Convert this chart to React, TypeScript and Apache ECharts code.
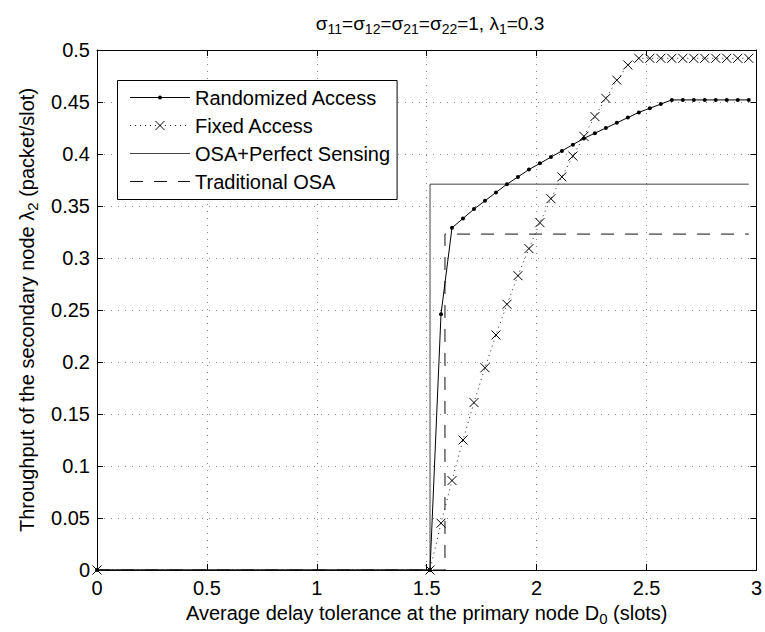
import React, { useEffect, useRef } from "react";
import * as echarts from "echarts";

const FONT = "'Liberation Sans', Arial, Helvetica, sans-serif";

// x positions of the sampled delay tolerances D0 (slots)
const dX = [
  0, 1.515, 1.565, 1.615, 1.665, 1.715, 1.765, 1.815, 1.865, 1.915, 1.965,
  2.015, 2.065, 2.115, 2.165, 2.215, 2.265, 2.315, 2.365, 2.415, 2.465,
  2.515, 2.565, 2.615, 2.665, 2.715, 2.765, 2.815, 2.865, 2.915, 2.965,
];
const randomizedY = [
  0, 0, 0.246, 0.329, 0.338, 0.347, 0.355, 0.363, 0.371, 0.378, 0.385,
  0.391, 0.397, 0.403, 0.409, 0.415, 0.42, 0.425, 0.43, 0.435, 0.44,
  0.444, 0.448, 0.452, 0.452, 0.452, 0.452, 0.452, 0.452, 0.452, 0.452,
];
const fixedY = [
  0, 0, 0.045, 0.086, 0.125, 0.161, 0.1945, 0.226, 0.2555, 0.283, 0.309,
  0.334, 0.357, 0.378, 0.398, 0.417, 0.436, 0.4535, 0.471, 0.4856, 0.492,
  0.492, 0.492, 0.492, 0.492, 0.492, 0.492, 0.492, 0.492, 0.492, 0.492,
];
const osaPerfectX = [0, 1.515, 1.515, 2.965];
const osaPerfectY = [0, 0, 0.371, 0.371];
const tradOsaX = [0, 1.583, 1.583, 2.965];
const tradOsaY = [0, 0, 0.323, 0.323];

const seriesNames = [
  "Randomized Access",
  "Fixed Access",
  "OSA+Perfect Sensing",
  "Traditional OSA",
];

const pair = (xs: number[], ys: number[]) => xs.map((x, i) => [x, ys[i]]);

// symbol paths: invisible corner moves fix the box so the mark is a fraction of it
const DOT = "path://M0,0M16,16M8,6A2,2,0,1,1,8,10A2,2,0,1,1,8,6Z";
const CROSS = "path://M0,0M16,16M3.5,3.5L12.5,12.5M12.5,3.5L3.5,12.5";
const NOTHING = "path://M0,0M16,16";

export default function App() {
  const ref = useRef<HTMLDivElement>(null);
  useEffect(() => {
    if (!ref.current) return;
    const chart = echarts.init(ref.current, null, { renderer: "svg" });
    const sub = { fontSize: 15, fontFamily: FONT, color: "#000", padding: [12, 0, 0, 0] };
    const n = { fontSize: 20, fontFamily: FONT, color: "#000" };
    const grid = {
      show: true,
      lineStyle: { color: "#888", type: [1, 6] as any, width: 1 },
    };
    chart.setOption({
      animation: false,
      backgroundColor: "#fff",
      title: {
        text:
          "{n|σ}{s|11}{n|=σ}{s|12}{n|=σ}{s|21}{n|=σ}{s|22}{n|=1, λ}{s|1}{n|=0.3}",
        left: 425,
        textAlign: "center",
        top: 5,
        textStyle: {
          fontWeight: "normal",
          rich: {
            n: { ...n, fontSize: 19, fontWeight: "normal" },
            s: { ...sub, fontSize: 14, fontWeight: "normal" },
          },
        },
      },
      grid: { left: 97, right: 8, top: 50, bottom: 62, containLabel: false },
      legend: {
        orient: "vertical",
        left: 117.5,
        top: 80.5,
        data: [
          { name: seriesNames[0], lineStyle: { width: 1 } },
          { name: seriesNames[1], lineStyle: { width: 1 }, itemStyle: { borderWidth: 1 } },
          { name: seriesNames[2], lineStyle: { width: 1 } },
          { name: seriesNames[3], lineStyle: { width: 1 } },
        ],
        itemWidth: 60,
        itemHeight: 20,
        itemGap: 8,
        padding: [7, 7, 8, 12],
        backgroundColor: "#fff",
        borderColor: "#000",
        borderWidth: 1,
        borderRadius: 0,
        textStyle: { fontSize: 20, fontFamily: FONT, color: "#000" },
      },
      xAxis: [
        {
          type: "value",
          min: 0,
          max: 3,
          interval: 0.5,
          name: "{n|Average delay tolerance at the primary node D}{s|0}{n| (slots)}",
          nameLocation: "middle",
          nameGap: 28,
          nameTextStyle: { rich: { n, s: sub } },
          axisLine: { show: true, onZero: false, lineStyle: { color: "#000", width: 1 } },
          axisTick: { show: true, inside: true, length: 6, lineStyle: { color: "#000" } },
          axisLabel: {
            fontSize: 20,
            fontFamily: FONT,
            color: "#000",
            margin: 8,
            formatter: (v: number) => String(+v.toFixed(2)),
          },
          splitLine: grid,
        },
        {
          type: "value",
          position: "top",
          min: 0,
          max: 3,
          interval: 0.5,
          axisLine: { show: true, onZero: false, lineStyle: { color: "#000", width: 1 } },
          axisTick: { show: true, inside: true, length: 6, lineStyle: { color: "#000" } },
          axisLabel: { show: false },
          splitLine: { show: false },
        },
      ],
      yAxis: [
        {
          type: "value",
          min: 0,
          max: 0.5,
          interval: 0.05,
          name: "{n|Throughput of the secondary node λ}{s|2}{n| (packet/slot)}",
          nameLocation: "middle",
          nameGap: 46,
          nameRotate: 90,
          nameTextStyle: { rich: { n, s: sub } },
          axisLine: { show: true, onZero: false, lineStyle: { color: "#000", width: 1 } },
          axisTick: { show: true, inside: true, length: 6, lineStyle: { color: "#000" } },
          axisLabel: {
            fontSize: 20,
            fontFamily: FONT,
            color: "#000",
            margin: 7,
            formatter: (v: number) => String(+v.toFixed(2)),
          },
          splitLine: grid,
        },
        {
          type: "value",
          position: "right",
          min: 0,
          max: 0.5,
          interval: 0.05,
          axisLine: { show: true, onZero: false, lineStyle: { color: "#000", width: 1 } },
          axisTick: { show: true, inside: true, length: 6, lineStyle: { color: "#000" } },
          axisLabel: { show: false },
          splitLine: { show: false },
        },
      ],
      series: [
        {
          name: seriesNames[0],
          type: "line",
          data: pair(dX, randomizedY),
          symbol: DOT,
          symbolSize: 16,
          showAllSymbol: true,
          lineStyle: { color: "#000", width: 1, type: "solid" },
          itemStyle: { color: "#000", borderWidth: 0 },
          z: 5,
        },
        {
          name: seriesNames[1],
          type: "line",
          data: pair(dX, fixedY),
          symbol: CROSS,
          symbolSize: 16,
          showAllSymbol: true,
          lineStyle: { color: "#222", width: 1, type: [1, 4] },
          itemStyle: { color: "#000", borderColor: "#000", borderWidth: 1 },
          z: 4,
        },
        {
          name: seriesNames[2],
          type: "line",
          data: pair(osaPerfectX, osaPerfectY),
          symbol: NOTHING,
          showSymbol: false,
          lineStyle: { color: "#444", width: 1, type: "solid" },
          itemStyle: { color: "#444", opacity: 0 },
          z: 3,
        },
        {
          name: seriesNames[3],
          type: "line",
          data: pair(tradOsaX, tradOsaY),
          symbol: NOTHING,
          showSymbol: false,
          lineStyle: { color: "#111", width: 1, type: [13, 11] },
          itemStyle: { color: "#111", opacity: 0 },
          z: 3,
        },
      ],
    });
    return () => chart.dispose();
  }, []);
  return (
    <div
      ref={ref}
      style={{ position: "fixed", left: 0, top: 0, width: 765, height: 632, background: "#fff" }}
    />
  );
}
